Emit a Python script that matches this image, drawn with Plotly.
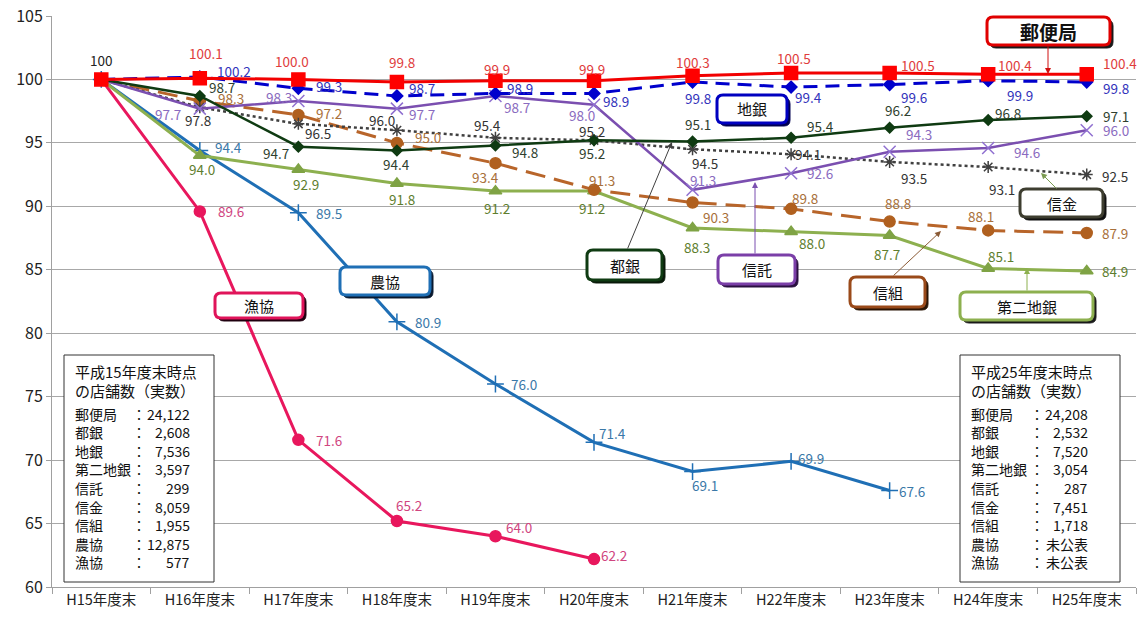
import plotly.graph_objects as go

# ---------------- data ----------------
categories = ["H15年度末", "H16年度末", "H17年度末", "H18年度末", "H19年度末", "H20年度末",
              "H21年度末", "H22年度末", "H23年度末", "H24年度末", "H25年度末"]

yubinkyoku = [100, 100.1, 100.0, 99.8, 99.9, 99.9, 100.3, 100.5, 100.5, 100.4, 100.4]
chigin     = [100, 100.2, 99.3, 98.7, 98.9, 98.9, 99.8, 99.4, 99.6, 99.9, 99.8]
togin      = [100, 98.7, 94.7, 94.4, 94.8, 95.2, 95.1, 95.4, 96.2, 96.8, 97.1]
shintaku   = [100, 97.7, 98.3, 97.7, 98.7, 98.0, 91.3, 92.6, 94.3, 94.6, 96.0]
shinkin    = [100, 97.8, 96.5, 96.0, 95.4, 95.2, 94.5, 94.1, 93.5, 93.1, 92.5]
shinkumi   = [100, 98.3, 97.2, 95.0, 93.4, 91.3, 90.3, 89.8, 88.8, 88.1, 87.9]
daini      = [100, 94.0, 92.9, 91.8, 91.2, 91.2, 88.3, 88.0, 87.7, 85.1, 84.9]
nokyo      = [100, 94.4, 89.5, 80.9, 76.0, 71.4, 69.1, 69.9, 67.6, None, None]
gyokyo     = [100, 89.6, 71.6, 65.2, 64.0, 62.2, None, None, None, None, None]

info_labels = ["郵便局", "都銀", "地銀", "第二地銀", "信託", "信金", "信組", "農協", "漁協"]
counts_h15 = ["24,122", "2,608", "7,536", "3,597", "299", "8,059", "1,955", "12,875", "577"]
counts_h25 = ["24,208", "2,532", "7,520", "3,054", "287", "7,451", "1,718", "未公表", "未公表"]
info_title_h15 = ["平成15年度末時点", "の店舗数（実数）"]
info_title_h25 = ["平成25年度末時点", "の店舗数（実数）"]

# ---------------- layout geometry (pixels) ----------------
W, H = 1142, 618
ML, MR, MT, MB = 52, 6, 16, 31
PW, PH = W - ML - MR, H - MT - MB
FONT = "Noto Sans CJK JP, Noto Sans, sans-serif"


def px(x):
    return (x - ML) / PW


def py(y):
    return (H - MB - y) / PH


# series styles: name, data, line color, width, dash, marker symbol, marker size, marker color, label color
series = [
    ("漁協", gyokyo, "#E8175D", 3, "solid", "circle", 11, "#E8175D", "#D0457F"),
    ("農協", nokyo, "#1F6FB5", 3, "solid", "cross-thin-open", 12, "#1F6FB5", "#3A78A8"),
    ("第二地銀", daini, "#8DB04F", 3, "solid", "triangle-up", 11, "#7FA345", "#5E7E2E"),
    ("信組", shinkumi, "#B8652A", 3, "20px,9px", "circle", 11, "#B0601F", "#A8703A"),
    ("信金", shinkin, "#404040", 2.5, "dot", "asterisk-open", 10, "#404040", "#333333"),
    ("信託", shintaku, "#7B4FB0", 2.5, "solid", "x-thin-open", 12, "#9070D0", "#8A6BC0"),
    ("都銀", togin, "#0F3B12", 2.5, "solid", "diamond", 8, "#0F3B12", "#2F3F2F"),
    ("地銀", chigin, "#0000CC", 3, "14px,8px", "diamond", 9, "#0000CC", "#3333BB"),
    ("郵便局", yubinkyoku, "#F20000", 3, "solid", "square", 13, "#FF0000", "#E03C3C"),
]

# label offsets (dx, dy in px; dy positive = up) for points 1..n
label_offsets = {
    "郵便局": [(6, 25), (-6, 18), (5, 20), (2, 12), (-2, 12), (0, 14), (3, 15), (28, 8), (27, 9), (33, 11)],
    "地銀": [(34, 6), (31, 2), (25, 8), (25, 5), (22, -8), (5, -16), (17, -10), (24, -12), (32, -14), (29, -6)],
    "都銀": [(22, 9), (-22, -6), (0, -13), (30, -7), (-2, -13), (5, 18), (29, 12), (8, 18), (20, 7), (29, 0)],
    "信託": [(-32, -5), (-19, 4), (25, -5), (22, -11), (-12, -10), (10, 10), (29, 0), (29, 18), (39, -4), (29, 0)],
    "信金": [(-2, -13), (20, -9), (-15, 10), (-8, 13), (-2, 9), (12, -14), (17, 0), (24, -16), (14, -22), (28, -1)],
    "信組": [(31, 3), (31, 2), (31, 6), (-10, -14), (8, 10), (23, -14), (14, 11), (8, 19), (-7, 14), (28, 0)],
    "第二地銀": [(2, -13), (8, -14), (5, -16), (2, -17), (-2, -17), (4, -19), (21, -11), (-3, -18), (13, 13), (28, 0)],
    "農協": [(29, 4), (31, 0), (31, 0), (29, 0), (18, 9), (12, -13), (20, 3), (22, 0)],
    "漁協": [(31, 0), (31, 0), (12, 16), (24, 9), (20, 4)],
}

fig = go.Figure()
annotations = []
shapes = []

for name, vals, lc, lw, dash, sym, ms, mc, tc in series:
    fig.add_trace(go.Scatter(
        x=categories, y=vals, mode="lines+markers", name=name,
        line=dict(color=lc, width=lw, dash=dash),
        marker=dict(symbol=sym, size=ms, color=mc, line=dict(color=mc, width=1.5)),
        connectgaps=False, showlegend=False, hoverinfo="skip",
    ))
    offs = label_offsets[name]
    for i in range(1, len(vals)):
        v = vals[i]
        if v is None:
            continue
        dx, dy = offs[i - 1]
        annotations.append(dict(
            x=categories[i], y=v, xref="x", yref="y", text=f"{v:.1f}",
            showarrow=False, xshift=dx, yshift=dy,
            font=dict(family=FONT, size=13.5, color=tc),
        ))

# shared starting label
annotations.append(dict(x=categories[0], y=yubinkyoku[0], xref="x", yref="y", text="100",
                        showarrow=False, yshift=19, font=dict(family=FONT, size=13.5, color="#222222")))


def rrect_path(x0, y0, x1, y1, r):
    pts = [
        ("M", [(x0 + r, y0)]), ("L", [(x1 - r, y0)]), ("Q", [(x1, y0), (x1, y0 + r)]),
        ("L", [(x1, y1 - r)]), ("Q", [(x1, y1), (x1 - r, y1)]), ("L", [(x0 + r, y1)]),
        ("Q", [(x0, y1), (x0, y1 - r)]), ("L", [(x0, y0 + r)]), ("Q", [(x0, y0), (x0 + r, y0)]),
    ]
    s = ""
    for cmd, ps in pts:
        s += cmd + " " + " ".join(f"{px(a):.5f},{py(b):.5f}" for a, b in ps) + " "
    return s + "Z"


# callout boxes: text, x0, y0, x1, y1, border color, shadow color, font size, bold
callouts = [
    ("郵便局", 987, 17, 1110, 45, "#E00000", "#1a1a1a", 19, True),
    ("地銀", 717, 95, 787, 123, "#0000C0", "#000050", 15, False),
    ("信金", 1020, 189, 1103, 217, "#3E3E30", "#111111", 15, False),
    ("都銀", 587, 250, 662, 280, "#0F3B12", "#0a1a0a", 15, False),
    ("信託", 718, 255, 795, 284, "#7B3FA8", "#2a1040", 15, False),
    ("信組", 850, 277, 925, 307, "#9A4A1A", "#2a1505", 15, False),
    ("第二地銀", 960, 292, 1093, 320, "#8DB04F", "#1a1a1a", 15, False),
    ("農協", 340, 267, 430, 295, "#1F6FB5", "#0a1a30", 15, False),
    ("漁協", 215, 293, 303, 318, "#E0145A", "#200010", 15, False),
]

for text, x0, y0, x1, y1, bc, sc, fs, bold in callouts:
    shapes.append(dict(type="path", xref="paper", yref="paper", layer="above",
                       path=rrect_path(x0 + 3, y0 + 3, x1 + 3, y1 + 3, 6),
                       fillcolor=sc, line=dict(color=sc, width=1)))
    shapes.append(dict(type="path", xref="paper", yref="paper", layer="above",
                       path=rrect_path(x0, y0, x1, y1, 6),
                       fillcolor="white", line=dict(color=bc, width=3)))
    annotations.append(dict(
        x=px((x0 + x1) / 2), y=py((y0 + y1) / 2), xref="paper", yref="paper",
        text=f"<b>{text}</b>" if bold else text, showarrow=False,
        xanchor="center", yanchor="middle",
        font=dict(family=FONT, size=fs, color="#111111"),
    ))

# arrows: head (x, y), tail (x, y), color
arrows = [
    ((1048, 74), (1048, 45), "#D01010"),
    ((1041, 173), (1058, 190), "#7A9A50"),
    ((672, 142), (627, 250), "#404040"),
    ((755, 182), (755, 255), "#7B4FB0"),
    ((941, 231), (892, 277), "#8A5A35"),
    ((1027, 268), (1027, 292), "#8DB04F"),
]
for (hx, hy), (tx, ty), c in arrows:
    annotations.append(dict(
        x=px(hx), y=py(hy), xref="paper", yref="paper", text="",
        showarrow=True, ax=tx - hx, ay=ty - hy, axref="pixel", ayref="pixel",
        arrowhead=2, arrowsize=1.2, arrowwidth=1, arrowcolor=c,
    ))

# info boxes
def info_box(x0, x1, colon_x, val_x, titles, values):
    shapes.append(dict(type="rect", xref="paper", yref="paper", layer="above",
                       x0=px(x0), x1=px(x1), y0=py(582), y1=py(355),
                       fillcolor="white", line=dict(color="#333333", width=1)))
    tx = x0 + 9
    for k, t in enumerate(titles):
        annotations.append(dict(x=px(tx), y=py(372 + 18 * k), xref="paper", yref="paper",
                                text=t, showarrow=False, xanchor="left", yanchor="middle",
                                font=dict(family=FONT, size=15, color="#111111")))
    for k, (lab, val) in enumerate(zip(info_labels, values)):
        yy = py(413.5 + 18.6 * k)
        annotations.append(dict(x=px(tx), y=yy, xref="paper", yref="paper", text=lab,
                                showarrow=False, xanchor="left", yanchor="middle",
                                font=dict(family=FONT, size=14, color="#111111")))
        annotations.append(dict(x=px(colon_x), y=yy, xref="paper", yref="paper", text="：",
                                showarrow=False, xanchor="center", yanchor="middle",
                                font=dict(family=FONT, size=14, color="#111111")))
        annotations.append(dict(x=px(val_x), y=yy, xref="paper", yref="paper", text=val,
                                showarrow=False, xanchor="right", yanchor="middle",
                                font=dict(family=FONT, size=14, color="#111111")))


info_box(64, 214, 139, 192, info_title_h15, counts_h15)
info_box(960, 1120, 1037, 1090, info_title_h25, counts_h25)

fig.update_layout(
    width=W, height=H,
    margin=dict(l=ML, r=MR, t=MT, b=MB, autoexpand=False),
    plot_bgcolor="white", paper_bgcolor="white",
    font=dict(family=FONT, color="#222222"),
    xaxis=dict(
        type="category", range=[-0.5, 10.5], showgrid=False, automargin=False,
        showline=True, linecolor="#A0A0A0", linewidth=1,
        ticks="outside", tickson="boundaries", ticklen=6, tickcolor="#A0A0A0",
        tickfont=dict(family=FONT, size=14.5, color="#222222"),
    ),
    yaxis=dict(
        range=[60, 105], dtick=5, tick0=60, showgrid=True, gridcolor="#A8A8A8", gridwidth=1,
        showline=True, linecolor="#A0A0A0", linewidth=1, zeroline=False, automargin=False,
        ticks="outside", ticklen=5, tickcolor="#A0A0A0",
        tickfont=dict(family=FONT, size=16, color="#222222"),
    ),
    shapes=shapes,
    annotations=annotations,
)

fig.write_html(
    "out.html",
    config={"displayModeBar": False},
    post_script="document.body.style.margin='0';document.body.style.overflow='hidden';",
)
